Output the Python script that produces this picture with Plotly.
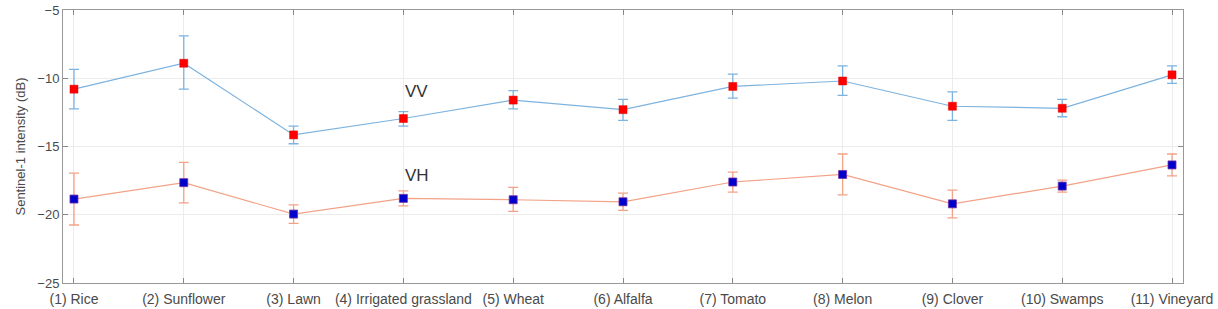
import plotly.graph_objects as go

categories = ["(1) Rice", "(2) Sunflower", "(3) Lawn", "(4) Irrigated grassland", "(5) Wheat",
              "(6) Alfalfa", "(7) Tomato", "(8) Melon", "(9) Clover", "(10) Swamps", "(11) Vineyard"]
vv_mean = [-10.8, -8.9, -14.15, -12.95, -11.6, -12.3, -10.6, -10.2, -12.05, -12.2, -9.75]
vv_plus = [1.45, 2.0, 0.65, 0.5, 0.7, 0.75, 0.9, 1.1, 1.05, 0.65, 0.65]
vv_minus = [1.45, 1.9, 0.65, 0.55, 0.65, 0.78, 0.85, 1.05, 1.03, 0.62, 0.62]
vh_mean = [-18.85, -17.65, -19.95, -18.8, -18.9, -19.05, -17.6, -17.05, -19.2, -17.9, -16.35]
vh_plus = [1.9, 1.48, 0.68, 0.55, 0.9, 0.63, 0.72, 1.5, 1.0, 0.44, 0.8]
vh_minus = [1.9, 1.48, 0.68, 0.55, 0.86, 0.63, 0.74, 1.5, 1.03, 0.44, 0.8]
y_ticks = [-25, -20, -15, -10, -5]

x = list(range(1, len(categories) + 1))

vv_color = "#7db3df"
vh_color = "#f2a287"

fig = go.Figure()
fig.add_trace(go.Scatter(
    x=x, y=vv_mean, mode="lines+markers", name="VV",
    line=dict(color=vv_color, width=1.2),
    marker=dict(symbol="square", size=8, color="#ff0000", line=dict(color="#e00000", width=0.5)),
    error_y=dict(type="data", array=vv_plus, arrayminus=vv_minus, color=vv_color, thickness=1.3, width=5),
))
fig.add_trace(go.Scatter(
    x=x, y=vh_mean, mode="lines+markers", name="VH",
    line=dict(color=vh_color, width=1.2),
    marker=dict(symbol="square", size=8, color="#0000cc", line=dict(color="#7030a0", width=0.8)),
    error_y=dict(type="data", array=vh_plus, arrayminus=vh_minus, color=vh_color, thickness=1.3, width=5),
))

fig.add_annotation(x=4, y=-11.0, text="VV", showarrow=False, xanchor="left", yanchor="middle",
                   font=dict(family="Liberation Sans, Arial", size=17, color="#333333"))
fig.add_annotation(x=4, y=-17.1, text="VH", showarrow=False, xanchor="left", yanchor="middle",
                   font=dict(family="Liberation Sans, Arial", size=17, color="#333333"))

fig.update_layout(
    width=1218, height=309,
    margin=dict(l=63, r=35, t=10, b=26, autoexpand=False),
    paper_bgcolor="white", plot_bgcolor="white",
    showlegend=False,
    font=dict(family="Liberation Sans, Arial", size=12, color="#444444"),
)
fig.update_xaxes(
    range=[0.9, 11.1], tickmode="array", tickvals=x, ticktext=categories,
    showgrid=True, gridcolor="#ececec", gridwidth=1, automargin=False,
    showline=True, linecolor="#999999", linewidth=1, mirror="ticks",
    ticks="inside", ticklen=5, tickcolor="#888888", zeroline=False,
    tickfont=dict(size=14, color="#4a4a4a"), ticklabelstandoff=3,
)
fig.update_yaxes(
    range=[-25, -5], tickmode="array", tickvals=y_ticks,
    showgrid=True, gridcolor="#ececec", gridwidth=1, automargin=False,
    showline=True, linecolor="#999999", linewidth=1, mirror="ticks",
    ticks="inside", ticklen=5, tickcolor="#888888", zeroline=False,
    title=dict(text="Sentinel-1 intensity (dB)", font=dict(size=13, color="#4a4a4a"), standoff=8),
    tickfont=dict(size=13, color="#4a4a4a"),
)

fig.write_html("out.html")
